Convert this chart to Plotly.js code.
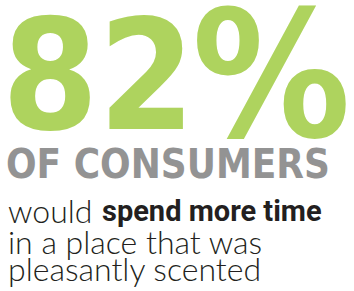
<!DOCTYPE html>
<html><head><meta charset="utf-8">
<script src="https://cdn.plot.ly/plotly-3.0.1.min.js"></script>
<style>html,body{margin:0;padding:0;background:#fff;overflow:hidden}#chart{width:354px;height:291px}</style>
</head><body><div id="chart"></div>
<script>
const statValue = [82];
const statSuffix = ['%'];
const headline = ['OF CONSUMERS'];
const bodyPlain = ['would', 'in a place that was', 'pleasantly scented'];
const bodyBold = ['spend more time', '', ''];

const W = 354, H = 291;
function py(p){ return 1 - p / H; }

const annotations = [];
annotations.push({
  text: String(statValue[0]),
  xref: 'paper', yref: 'paper', x: 0.0, y: py(76), xanchor: 'left', yanchor: 'middle',
  showarrow: false, xshift: 0,
  font: {family: 'DejaVu Sans Condensed, DejaVu Sans', size: 154, color: '#AED35E', weight: 700}
});
annotations.push({
  text: statSuffix[0],
  xref: 'paper', yref: 'paper', x: 0.0, y: py(77), xanchor: 'left', yanchor: 'middle',
  showarrow: false, xshift: 190,
  font: {family: 'DejaVu Sans Condensed, DejaVu Sans', size: 176, color: '#AED35E', weight: 700}
});
annotations.push({
  text: '<b>' + headline[0] + '</b>',
  xref: 'paper', yref: 'paper', x: 0.0, y: py(164), xanchor: 'left', yanchor: 'middle',
  showarrow: false, xshift: 4,
  font: {family: 'DejaVu Sans Condensed, DejaVu Sans', size: 40, color: '#939393'}
});
const lineCenters = [210, 241, 268];
for (let i = 0; i < bodyPlain.length; i++) {
  annotations.push({
    text: bodyPlain[i],
    xref: 'paper', yref: 'paper', x: 0.0, y: py(lineCenters[i]), xanchor: 'left', yanchor: 'middle',
    showarrow: false, xshift: 6,
    font: {family: 'Lato', size: 32, color: '#231F20', weight: 300}
  });
  if (bodyBold[i]) {
    annotations.push({
      text: bodyBold[i],
      xref: 'paper', yref: 'paper', x: 0.0, y: py(lineCenters[i] + 1), xanchor: 'left', yanchor: 'middle',
      showarrow: false, xshift: 100,
      font: {family: 'Roboto', size: 29, color: '#231F20', weight: 700}
    });
  }
}

Plotly.newPlot('chart', [], {
  width: W, height: H,
  margin: {l: 0, r: 0, t: 0, b: 0},
  paper_bgcolor: '#ffffff', plot_bgcolor: '#ffffff',
  xaxis: {visible: false}, yaxis: {visible: false},
  annotations: annotations,
  showlegend: false
}, {staticPlot: true, displayModeBar: false});
</script></body></html>
